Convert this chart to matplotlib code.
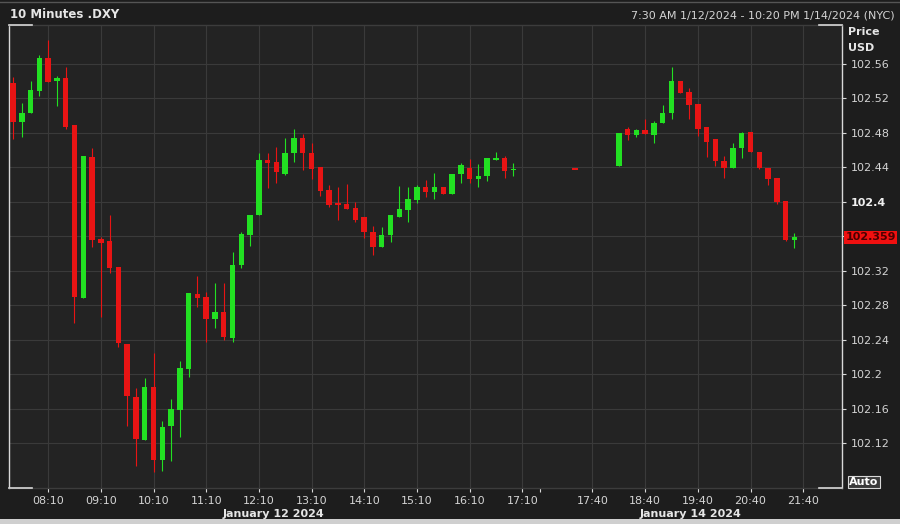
from matplotlib import pyplot as plt
from matplotlib import transforms
import numpy as np

# 10 minute candles of .DXY, one slot per 10 minutes (gaps are None)
opens = [102.538, 102.493, 102.503, 102.529, 102.567, 102.540, 102.544, 102.489, 102.289, 102.452,
         102.357, 102.355, 102.325, 102.235, 102.174, 102.124, 102.186, 102.101, 102.140, 102.159,
         102.206, 102.293, 102.290, 102.264, 102.272, 102.242, 102.327, 102.362, 102.385, 102.449,
         102.446, 102.432, 102.457, 102.474, 102.457, 102.441, 102.414, 102.398, 102.398, 102.393,
         102.383, 102.365, 102.348, 102.362, 102.383, 102.391, 102.402, 102.417, 102.412, 102.417,
         102.409, 102.432, 102.439, 102.427, 102.430, 102.449, 102.451, 102.437,
         None, None, None, None, None, None, 102.439, None, None, None, None,
         102.442, 102.485, 102.478, 102.483, 102.478, 102.492, 102.503, 102.540, 102.528, 102.514,
         102.487, 102.473, 102.448, 102.439, 102.463, 102.481, 102.458, 102.439, 102.428, 102.401,
         102.356]
highs = [102.545, 102.515, 102.540, 102.570, 102.588, 102.546, 102.557, 102.489, 102.453, 102.463,
         102.359, 102.385, 102.325, 102.235, 102.184, 102.196, 102.225, 102.146, 102.172, 102.216,
         102.294, 102.314, 102.296, 102.306, 102.306, 102.342, 102.365, 102.385, 102.457, 102.457,
         102.464, 102.474, 102.485, 102.479, 102.468, 102.441, 102.420, 102.417, 102.421, 102.400,
         102.383, 102.372, 102.371, 102.385, 102.419, 102.417, 102.420, 102.426, 102.434, 102.417,
         102.432, 102.445, 102.450, 102.444, 102.451, 102.458, 102.453, 102.445,
         None, None, None, None, None, None, 102.439, None, None, None, None,
         102.480, 102.487, 102.485, 102.496, 102.494, 102.512, 102.557, 102.540, 102.532, 102.514,
         102.487, 102.473, 102.453, 102.468, 102.481, 102.481, 102.458, 102.439, 102.428, 102.401,
         102.364]
lows = [102.473, 102.475, 102.503, 102.523, 102.539, 102.511, 102.485, 102.260, 102.289, 102.348,
        102.267, 102.318, 102.232, 102.140, 102.094, 102.124, 102.087, 102.088, 102.100, 102.128,
        102.197, 102.278, 102.238, 102.254, 102.240, 102.238, 102.323, 102.349, 102.385, 102.416,
        102.422, 102.431, 102.446, 102.437, 102.427, 102.407, 102.394, 102.379, 102.392, 102.377,
        102.358, 102.339, 102.348, 102.354, 102.383, 102.377, 102.399, 102.406, 102.403, 102.409,
        102.409, 102.422, 102.422, 102.417, 102.424, 102.449, 102.428, 102.430,
        None, None, None, None, None, None, 102.438, None, None, None, None,
        102.442, 102.472, 102.475, 102.479, 102.468, 102.492, 102.496, 102.526, 102.496, 102.477,
        102.452, 102.442, 102.428, 102.439, 102.451, 102.458, 102.438, 102.420, 102.398, 102.355,
        102.347]
closes = [102.493, 102.503, 102.530, 102.567, 102.539, 102.544, 102.487, 102.290, 102.453, 102.356,
          102.353, 102.323, 102.237, 102.175, 102.125, 102.186, 102.101, 102.139, 102.160, 102.208,
          102.294, 102.289, 102.264, 102.272, 102.243, 102.327, 102.363, 102.385, 102.449, 102.445,
          102.435, 102.457, 102.474, 102.457, 102.438, 102.413, 102.397, 102.397, 102.392, 102.379,
          102.365, 102.348, 102.362, 102.385, 102.392, 102.403, 102.417, 102.412, 102.417, 102.409,
          102.432, 102.443, 102.427, 102.430, 102.451, 102.451, 102.436, 102.438,
          None, None, None, None, None, None, 102.438, None, None, None, None,
          102.480, 102.478, 102.483, 102.479, 102.492, 102.503, 102.540, 102.526, 102.512, 102.485,
          102.470, 102.448, 102.439, 102.463, 102.480, 102.458, 102.439, 102.427, 102.400, 102.356,
          102.359]

tick_pos = [4, 10, 16, 22, 28, 34, 40, 46, 52, 58, 66, 72, 78, 84, 90]
tick_labels = ['08:10', '09:10', '10:10', '11:10', '12:10', '13:10', '14:10', '15:10',
               '16:10', '17:10', '17:40', '18:40', '19:40', '20:40', '21:40']
price_ticks = [102.12, 102.16, 102.2, 102.24, 102.28, 102.32, 102.36, 102.4, 102.44, 102.48, 102.52, 102.56]
price_labels = ['102.12', '102.16', '102.2', '102.24', '102.28', '102.32', '', '102.4',
                '102.44', '102.48', '102.52', '102.56']
last_price = 102.359

GREEN = '#22e022'
RED = '#e81414'
TXT = '#d4d4d4'
GRID = '#3a3a3a'


def px(x, y):
    # pixel position -> figure fraction
    return x / 900, 1 - y / 524


def draw_candles(ax):
    o = np.array([np.nan if v is None else v for v in opens])
    h = np.array([np.nan if v is None else v for v in highs])
    l = np.array([np.nan if v is None else v for v in lows])
    c = np.array([np.nan if v is None else v for v in closes])
    idx = np.arange(len(o))
    ok = ~np.isnan(o)
    up = ok & (c >= o)
    down = ok & (c < o)
    for mask, col in [(up, GREEN), (down, RED)]:
        ax.vlines(idx[mask], l[mask], h[mask], color=col, lw=0.8, zorder=3)
        bottom = np.minimum(o[mask], c[mask])
        height = np.abs(c[mask] - o[mask])
        # dojis still get a thin body
        small = height < 0.0018
        bottom = np.where(small, (o[mask] + c[mask]) / 2 - 0.0009, bottom)
        height = np.where(small, 0.0018, height)
        ax.bar(idx[mask], height, bottom=bottom, width=0.62, color=col, lw=0, zorder=4)


fig = plt.figure(figsize=(9, 5.24), dpi=100, facecolor='#1d1d1d')
ax = fig.add_axes([9 / 900, 1 - 488 / 524, 833 / 900, 463 / 524])
ax.set_facecolor('#232323')

draw_candles(ax)

ax.set_xlim(-0.46, 94.42)
ax.set_ylim(102.0684, 102.6052)

# x axis
ax.set_xticks(tick_pos)
ax.set_xticklabels(tick_labels)
ax.set_xticks([60], minor=True)
ax.tick_params(axis='x', which='both', colors='#d8d8d8', labelcolor=TXT, labelsize=8,
               length=3, width=0.8, pad=3)

# y axis on the right
ax.yaxis.tick_right()
ax.set_yticks(price_ticks)
ax.set_yticklabels(price_labels)
ax.tick_params(axis='y', colors='#d8d8d8', labelcolor=TXT, labelsize=8, length=3, width=0.8, pad=3)
for lab in ax.get_yticklabels():
    if lab.get_text() == '102.4':
        lab.set_fontweight('bold')
        lab.set_color('#f0f0f0')

ax.grid(True, which='major', color=GRID, lw=0.8, zorder=0)
ax.set_axisbelow(True)

# frame: light sides, grey top/bottom with light corners
ax.spines['left'].set_color('#d8d8d8')
ax.spines['right'].set_color('#d8d8d8')
ax.spines['top'].set_color('#3c3c3c')
ax.spines['bottom'].set_color('#3c3c3c')
for s in ax.spines.values():
    s.set_linewidth(1)
cw = 23 / 833
for xs, y in [((0, cw), 1), ((0, cw), 0), ((1 - cw, 1), 1), ((1 - cw, 1), 0)]:
    ax.plot(xs, [y, y], color='#d8d8d8', lw=1.2, transform=ax.transAxes, clip_on=False, zorder=6)

# last price tag
trans = transforms.blended_transform_factory(ax.transAxes, ax.transData)
ax.text(1.004, last_price, '102.359', transform=trans, ha='left', va='center',
        fontsize=8, fontweight='bold', color='#4a0000',
        bbox=dict(boxstyle='square,pad=0.15', fc='#f01010', ec='none'))

# header and labels
fig.add_artist(plt.Line2D([0, 1], [1 - 2 / 524, 1 - 2 / 524], color='#555555', lw=1))
fig.text(*px(10, 15), '10 Minutes .DXY', color='#e6e6e6', fontsize=8.5, fontweight='bold', va='center')
fig.text(*px(895, 15), '7:30 AM 1/12/2024 - 10:20 PM 1/14/2024 (NYC)', color=TXT,
         fontsize=8, ha='right', va='center')
fig.text(*px(848, 32), 'Price', color='#e6e6e6', fontsize=8, fontweight='bold', va='center')
fig.text(*px(848, 48), 'USD', color='#e6e6e6', fontsize=8, fontweight='bold', va='center')
fig.text(*px(864, 482), 'Auto', color='#ffffff', fontsize=8, fontweight='bold', ha='center', va='center',
         bbox=dict(boxstyle='square,pad=0.12', fc='#3a3a3a', ec='#d8d8d8', lw=0.8))
fig.text(*px(273, 514), 'January 12 2024', color='#e6e6e6', fontsize=8, fontweight='bold',
         ha='center', va='center')
fig.text(*px(691, 514), 'January 14 2024', color='#e6e6e6', fontsize=8, fontweight='bold',
         ha='center', va='center')

# bottom strip
fig.add_artist(plt.Rectangle((0, 0), 1, 5 / 524, transform=fig.transFigure, color='#cfcfcf', lw=0))

fig.savefig('out.png', dpi=100, facecolor=fig.get_facecolor())
